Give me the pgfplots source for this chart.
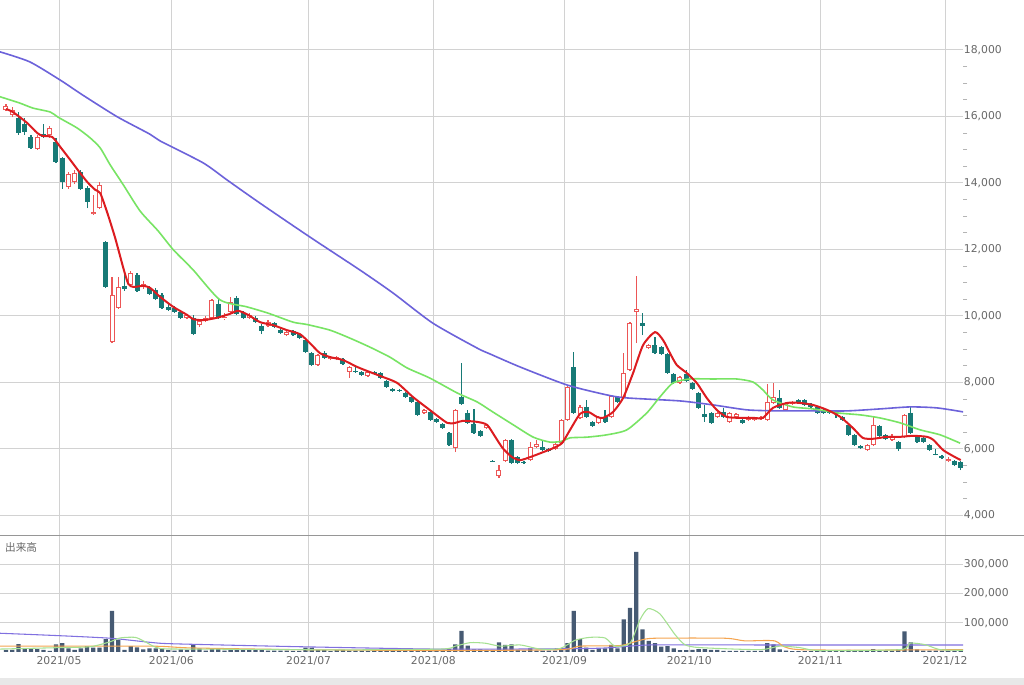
\documentclass[border=0pt]{standalone}
\usepackage{fontspec}
\setmainfont{DejaVu Sans}
\newfontfamily\cjk{Noto Sans CJK JP}
\usepackage{pgfplots}
\usepackage{pgfplotstable}
\pgfplotsset{compat=1.18}

\definecolor{upc}{RGB}{236,86,86}
\definecolor{dnc}{RGB}{23,122,118}
\definecolor{maf}{RGB}{220,28,32}
\definecolor{mam}{RGB}{120,228,100}
\definecolor{mas}{RGB}{108,98,218}
\definecolor{volc}{RGB}{70,90,115}
\definecolor{gridc}{RGB}{210,210,210}
\definecolor{labc}{RGB}{105,105,105}
\definecolor{vmaf}{RGB}{165,225,145}
\definecolor{vmam}{RGB}{245,165,80}
\definecolor{vmas}{RGB}{128,112,224}
\definecolor{bandc}{RGB}{232,232,232}
\definecolor{sepc}{RGB}{150,150,150}

% up candles (close > open)
\pgfplotstableread{
i O H L C
0 16190 16370 16160 16310
1 16040 16280 15980 16190
5 15020 15440 14990 15380
7 15440 15710 15350 15650
10 13880 14330 13820 14270
11 14030 14390 13970 14300
14 13060 13630 13040 13120
15 13240 14030 13210 13940
17 9210 11170 9180 10630
18 10240 11170 10210 10870
20 10930 11350 10900 11290
22 10870 11050 10810 10960
29 9940 10060 9900 10030
31 9720 9900 9660 9840
32 9840 10000 9810 9940
33 9940 10510 9900 10480
35 9940 10090 9870 9970
36 10120 10570 10090 10420
39 9940 10090 9900 10030
42 9690 9870 9660 9810
45 9420 9540 9390 9510
50 8520 8850 8490 8820
52 8700 8790 8670 8760
53 8700 8790 8670 8760
55 8310 8490 8130 8460
58 8190 8340 8160 8310
67 7080 7200 7050 7170
72 6020 7200 5900 7170
77 6630 6750 6600 6720
79 5180 5510 5120 5360
80 5630 6300 5600 6270
84 5660 6200 5630 6050
85 6050 6270 6020 6140
88 5990 6170 5960 6140
89 6170 6900 6140 6870
90 6870 7890 6840 7860
92 6930 7320 6900 7260
95 6780 6990 6750 6960
97 6960 7620 6930 7590
99 7530 8880 7500 8280
100 8370 9810 8340 9780
101 10120 11200 9180 10210
103 9030 9150 9000 9120
108 7980 8190 7950 8160
114 6960 7110 6930 7080
116 6810 7110 6780 7080
117 6960 7080 6930 7050
119 6870 6990 6840 6960
120 6870 6960 6840 6930
121 6900 6990 6870 6960
122 6870 7950 6840 7410
123 7380 7980 7350 7560
125 7170 7410 7140 7380
126 7350 7440 7320 7410
138 5960 6140 5930 6110
139 6110 6960 6080 6720
142 6270 6450 6240 6360
144 6360 7050 6330 7020
151 5630 5750 5600 5690
}\upt

% down candles (close < open)
\pgfplotstableread{
i O H L C
2 15950 16130 15440 15500
3 15770 15950 15440 15530
4 15380 15440 15020 15050
6 15470 15770 15350 15380
8 15230 15350 14600 14630
9 14750 14780 13820 14030
12 14330 14390 13790 13820
13 13850 13900 13240 13420
16 12220 12240 10840 10870
19 10900 11230 10750 10810
21 11230 11290 10720 10750
23 10840 10900 10630 10660
24 10780 10840 10480 10510
25 10630 10690 10210 10240
26 10270 10390 10150 10180
27 10240 10300 10090 10120
28 10120 10150 9900 9940
30 9940 10030 9420 9450
34 10360 10540 9900 9940
37 10540 10600 10030 10060
38 10090 10150 9900 9940
40 9940 10000 9780 9810
41 9690 9750 9450 9540
43 9780 9810 9630 9660
44 9570 9600 9450 9480
46 9540 9570 9390 9420
47 9450 9480 9300 9330
48 9270 9330 8880 8910
49 8880 8910 8490 8520
51 8880 8940 8700 8730
54 8700 8730 8520 8550
56 8340 8490 8280 8310
57 8310 8340 8190 8220
59 8310 8340 8220 8250
60 8280 8310 8100 8130
61 8040 8070 7830 7860
62 7800 7830 7710 7740
63 7770 7800 7710 7740
64 7680 7710 7530 7560
65 7560 7590 7380 7410
66 7410 7440 6990 7020
68 7110 7140 6840 6870
69 6900 6930 6780 6810
70 6750 6780 6600 6630
71 6480 6510 6080 6110
73 7560 8580 7320 7350
74 7080 7170 6750 6780
75 6750 7200 6450 6480
76 6540 6570 6360 6390
78 5640 5650 5610 5620
81 6270 6300 5540 5570
82 5750 5780 5540 5570
83 5600 5630 5540 5570
86 6050 6270 5930 5960
87 5990 6020 5900 5930
91 8460 8910 7050 7080
93 7260 7470 6930 6960
94 6810 6840 6660 6690
96 6960 7170 6780 6810
98 7560 7590 7380 7410
102 9780 10090 9420 9690
104 9120 9360 8850 8880
105 9060 9090 8820 8850
106 8850 8880 8250 8280
107 8250 8280 7950 7980
109 8250 8370 8010 8040
110 7980 8010 7770 7800
111 7680 7710 7200 7230
112 7050 7320 6810 6960
113 7080 7110 6750 6780
115 7110 7230 6930 6960
118 6870 6900 6750 6780
124 7530 7770 7200 7230
127 7470 7500 7350 7380
128 7470 7500 7290 7320
129 7350 7380 7230 7260
130 7260 7290 7050 7080
131 7170 7200 7050 7080
132 7140 7170 7050 7080
133 7140 7170 6930 7050
134 6960 6990 6840 6870
135 6720 6750 6390 6420
136 6420 6450 6080 6110
137 6080 6110 5990 6020
140 6690 6720 6360 6390
141 6420 6450 6270 6300
143 6200 6240 5930 5990
145 7080 7260 6450 6480
146 6360 6390 6170 6200
147 6330 6360 6170 6200
148 6110 6140 5930 5960
149 5840 5990 5800 5810
150 5780 5810 5690 5720
152 5630 5660 5480 5510
153 5600 5630 5360 5420
}\dnt

% volume
\pgfplotstableread{
i V
0 7000
1 7000
2 27000
3 12000
4 12000
5 10000
6 7000
7 4000
8 26000
9 30000
10 12000
11 7000
12 12000
13 20000
14 15000
15 15000
16 44000
17 140000
18 41000
19 7000
20 20000
21 16000
22 9000
23 12000
24 12000
25 12000
26 7000
27 5000
28 9000
29 7000
30 27000
31 12000
32 5000
33 12000
34 12000
35 5000
36 7000
37 7000
38 7000
39 6000
40 6000
41 6000
42 5000
43 5000
44 5000
45 5000
46 4000
47 4000
48 15000
49 15000
50 7000
51 6000
52 3000
53 6000
54 6000
55 5000
56 5000
57 5000
58 4000
59 3000
60 4000
61 7000
62 7000
63 4000
64 3000
65 5000
66 5000
67 5000
68 5000
69 5000
70 7000
71 10000
72 26000
73 72000
74 22000
75 9000
76 9000
77 7000
78 7000
79 33000
80 24000
81 26000
82 7000
83 5000
84 12000
85 5000
86 5000
87 5000
88 5000
89 12000
90 30000
91 140000
92 44000
93 15000
94 7000
95 12000
96 12000
97 24000
98 12000
99 111000
100 151000
101 342000
102 77000
103 38000
104 30000
105 18000
106 20000
107 12000
108 6000
109 6000
110 7000
111 10000
112 10000
113 7000
114 7000
115 4000
116 4000
117 4000
118 4000
119 4000
120 4000
121 4000
122 30000
123 26000
124 9000
125 5000
126 3000
127 3000
128 3000
129 3000
130 3000
131 3000
132 3000
133 3000
134 4000
135 7000
136 5000
137 5000
138 5000
139 10000
140 6000
141 5000
142 5000
143 9000
144 70000
145 33000
146 9000
147 5000
148 5000
149 5000
150 5000
151 5000
152 5000
153 10000
}\volt

\pgfplotsset{
  base/.style={
    scale only axis,
    xmin=-0.96, xmax=153.37,
    axis line style={draw=none},
    xtick={8.5,26.5,48.5,68.5,89.5,109.5,130.5,150.5},
    grid=major,
    major grid style={draw=gridc, line width=0.75pt},
    major tick length=0pt,
    ytick pos=right, yticklabel pos=right,
    ticklabel style={font=\fontsize{8.1}{9}\selectfont, text=labc},
    yticklabel style={xshift=-2.8pt},
    /pgf/number format/1000 sep={,},
    /pgf/number format/assume math mode=true,
  },
}

\begin{document}
\begin{tikzpicture}[x=1pt,y=1pt]
\path[use as bounding box] (0,0) rectangle (768,513.75);
\fill[white] (0,0) rectangle (768,513.75);
\fill[bandc] (0,0) rectangle (768,5.25);

% ---------- price panel ----------
\begin{axis}[base,
  at={(0pt,112.5pt)}, anchor=south west,
  width=722.25pt, height=401.25pt,
  ymin=3407, ymax=19500,
  xticklabels=\empty,
  ytick={4000,6000,...,18000},
  minor y tick num=3,
  minor tick length=3pt, tick align=outside,
  minor tick style={draw=labc!50, line width=0.6pt},
  scaled y ticks=false,
  yticklabel style={/pgf/number format/fixed},
]
% wicks
\addplot[dnc, line width=0.9pt, -, quiver={u=0, v=\thisrow{H}-\thisrow{L}}] table[x=i, y=L] {\dnt};
\addplot[upc, line width=0.9pt, -, quiver={u=0, v=\thisrow{H}-\thisrow{L}}] table[x=i, y=L] {\upt};
% bodies
\addplot[dnc, line width=3.75pt, -, quiver={u=0, v=\thisrow{C}-\thisrow{O}}] table[x=i, y=O] {\dnt};
\addplot[upc, line width=3.75pt, -, quiver={u=0, v=\thisrow{C}-\thisrow{O}}] table[x=i, y=O] {\upt};
\addplot[white, line width=2.25pt, -, quiver={u=0, v=\thisrow{C}-\thisrow{O},
   every arrow/.style={shorten >=0.75pt, shorten <=0.75pt}}] table[x=i, y=O] {\upt};

% 75-day
\addplot[mas, line width=1.2pt, smooth, tension=0.4] coordinates {
(-0.96,17940) (3.8,17640) (8.7,17090) (12.3,16640) (17.8,15990) (23,15470)
(24.7,15260) (31.6,14600) (35.4,14090) (40.7,13390) (48.7,12370) (56.7,11380)
(62,10690) (68.4,9780) (75.5,9030) (77.6,8850) (82.4,8460) (89.9,7920) (96.3,7620)
(99.5,7530) (108,7440) (113.3,7320) (118.8,7170) (124,7140) (129.3,7140)
(134.8,7140) (140.1,7200) (144.9,7260) (149.2,7230) (153.4,7110)};
% 25-day
\addplot[mam, line width=1.2pt, smooth, tension=0.4] coordinates {
(-0.96,16590) (2.2,16400) (4.3,16250) (7.1,16130) (8.3,15980) (11.4,15650)
(13.5,15350) (15.1,15050) (16.7,14540) (18.8,13940) (21.5,13150) (24.4,12550)
(26.8,11990) (30,11380) (34.3,10480) (38.6,10270) (42,10080)
(46,9810) (48.2,9740) (51.9,9570) (55.1,9330) (58.3,9060) (61.5,8760)
(64.3,8430) (67.9,8130) (72.3,7680) (75.5,7410) (78,7110) (81.3,6720)
(84.5,6350) (87.2,6200) (89.1,6230) (90.4,6330) (93.1,6350) (96.3,6420)
(99.5,6570) (102.7,7080) (104.8,7560) (106.9,7980) (109.6,8100) (113.3,8100)
(117.1,8100) (119.7,8010) (121.3,7770) (122.9,7470) (126.1,7260) (129.3,7200)
(133.2,7080) (136.9,7020) (140,6930) (143.3,6780) (146.5,6570) (149.7,6420)
(152.9,6170)};
% 5-day
\addplot[maf, line width=1.5pt, smooth, tension=0.4] coordinates {
(0,16220) (1.1,16130) (3.4,15800) (5,15500) (5.9,15410) (7.4,15380)
(8.7,15080) (10.3,14690) (11.5,14390) (13,14030) (14.3,13790) (15.1,13690)
(16.2,13120) (17.5,12340) (18.8,11440) (19.6,10960) (20.4,10870) (22,10900)
(23.1,10840) (24.7,10570) (26.8,10270) (29,10030) (30,9900) (31.6,9870)
(33.8,9940) (35.9,10060) (37.2,10150) (38.8,10030) (40.7,9810) (42.8,9720)
(45,9570) (47.1,9450) (48.7,9180) (50.3,8880) (51.9,8760) (54,8670)
(56.3,8460) (58.3,8310) (60.4,8160) (62.7,7980) (65.2,7560) (67.9,7170)
(70.7,6780) (72,6780) (73.2,6840) (75.5,6810) (77.1,6720) (78.4,6360)
(79.6,6020) (81.1,5750) (82.4,5660) (84,5750) (86.1,5900) (87.7,6020)
(89.1,6170) (90.4,6570) (92,7050) (93.3,7110) (94.7,6960) (95.7,6930)
(97.3,7110) (98.9,7530) (100.5,8280) (102.1,9120) (104,9510) (105.3,9270)
(106.4,8880) (107.5,8520) (109.1,8280) (110.7,7980) (112.3,7530) (113.9,7170)
(115.5,6960) (117.6,6930) (119.7,6930) (121.3,6930) (122.9,7230) (125.2,7380)
(127.2,7380) (129.3,7320) (131.6,7170) (133.7,6960) (135.7,6630) (137.3,6330)
(138.9,6300) (141.2,6360) (143.3,6360) (145.4,6390) (147.6,6360) (148.6,6270)
(150.2,5960) (151.8,5780) (153,5660)};
\end{axis}

\draw[line width=1pt, sepc] (0,112.1) -- (768,112.1);

% ---------- volume panel ----------
\begin{axis}[base,
  at={(0pt,24.75pt)}, anchor=south west,
  width=722.25pt, height=87pt,
  ymin=0, ymax=395900,
  xticklabels={2021/05,2021/06,2021/07,2021/08,2021/09,2021/10,2021/11,2021/12},
  ytick={100000,200000,300000},
  scaled y ticks=false,
  yticklabel style={/pgf/number format/fixed},
]
\addplot[ybar, bar width=3.2pt, fill=volc, draw=none] table[x=i, y=V] {\volt};
\addplot[vmas, line width=0.8pt, smooth, tension=0.4] coordinates {
(-0.96,64000) (8.2,56000) (16.7,47000) (23.1,33000) (26.8,28000) (47.1,18000)
(68.4,10000) (81.1,10000) (95.2,13000) (103.2,24000) (120,24000) (153.4,24000)};
\addplot[vmam, line width=0.8pt, smooth, tension=0.4] coordinates {
(-0.96,20000) (23.1,20000) (29.5,14000) (47.1,8000) (69.6,5000) (88.8,8000)
(92,20000) (98.4,22000) (101.6,40000) (104,47000) (115.2,47000) (118.4,38000)
(123.2,38000) (127.2,8000) (153.4,8000)};
\addplot[vmaf, line width=0.8pt, smooth, tension=0.4] coordinates {
(-0.96,10000) (8.7,15000) (13.5,18000) (16.7,35000) (18.3,48000) (20.7,50000)
(22.3,35000) (24.7,12000) (31.1,10000) (47.1,8000) (51.9,7000) (69.6,10000)
(72,20000) (74.4,32000) (76.8,30000) (79.2,20000) (82.4,24000) (85.6,10000)
(88.8,12000) (91.2,40000) (93.6,50000) (96,48000) (97.6,20000) (100,30000)
(101.6,110000) (102.9,148000) (104.8,130000) (107.2,60000) (108.8,25000)
(111.2,15000) (120.8,8000) (124,20000) (127.2,15000) (130.4,5000) (143.3,8000)
(144.9,30000) (147.3,25000) (149.7,8000) (153.4,6000)};
\node[anchor=north west, inner sep=0pt, font=\cjk\fontsize{8}{9}\selectfont, text=labc]
  at (rel axis cs:0.005,0.95) {出来高};
\end{axis}
\end{tikzpicture}
\end{document}
